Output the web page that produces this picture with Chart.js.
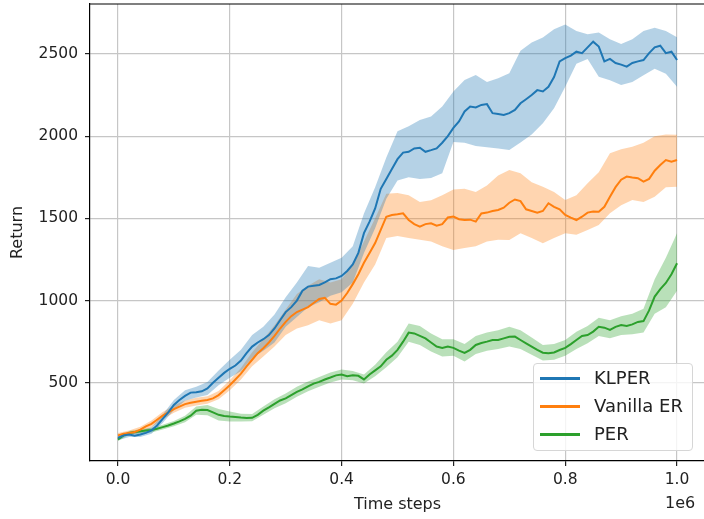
<!DOCTYPE html>
<html>
<head>
<meta charset="utf-8">
<script src="https://cdn.jsdelivr.net/npm/chart.js@4.4.1/dist/chart.umd.min.js"></script>
<style>
  html, body { margin: 0; padding: 0; background: #fff; overflow: hidden; }
  #wrap { position: relative; width: 704px; height: 519px; overflow: hidden; }
  #wrap canvas { position: absolute; left: 0; top: 0; }
  .legend {
    position: absolute; left: 533px; top: 363px; width: 160px; height: 88px;
    border: 1px solid #d6d6d6; border-radius: 4px; background: rgba(255,255,255,0.8);
    font-family: "DejaVu Sans", sans-serif; font-size: 18px; color: #222;
    box-sizing: border-box;
  }
  .legend .row { position: absolute; left: 0; height: 22px; line-height: 22px; white-space: nowrap; }
  .legend .sw { position: absolute; left: 6px; top: 10px; width: 40px; height: 2.5px; }
  .legend .lb { position: absolute; left: 60px; top: 0; }
  .offset { position: absolute; left: 665px; top: 493px; font-family: "DejaVu Sans", sans-serif;
    font-size: 16px; color: #222; }
</style>
</head>
<body>
<div id="wrap">
  <canvas id="c" width="720" height="519" style="width:720px;height:519px"></canvas>
  <div class="legend" id="legend"></div>
  <div class="offset">1e6</div>
</div>
<script>
// time steps in units of 1e6
const timeSteps = [0.00, 0.01, 0.02, 0.03, 0.04, 0.05, 0.06, 0.07, 0.08, 0.09,
  0.10, 0.11, 0.12, 0.13, 0.14, 0.15, 0.16, 0.17, 0.18, 0.19,
  0.20, 0.21, 0.22, 0.23, 0.24, 0.25, 0.26, 0.27, 0.28, 0.29,
  0.30, 0.31, 0.32, 0.33, 0.34, 0.35, 0.36, 0.37, 0.38, 0.39,
  0.40, 0.41, 0.42, 0.43, 0.44, 0.45, 0.46, 0.47, 0.48, 0.49,
  0.50, 0.51, 0.52, 0.53, 0.54, 0.55, 0.56, 0.57, 0.58, 0.59,
  0.60, 0.61, 0.62, 0.63, 0.64, 0.65, 0.66, 0.67, 0.68, 0.69,
  0.70, 0.71, 0.72, 0.73, 0.74, 0.75, 0.76, 0.77, 0.78, 0.79,
  0.80, 0.81, 0.82, 0.83, 0.84, 0.85, 0.86, 0.87, 0.88, 0.89,
  0.90, 0.91, 0.92, 0.93, 0.94, 0.95, 0.96, 0.97, 0.98, 0.99, 1.00];

const klperMean = [165, 180, 185, 178, 185, 195, 210, 240, 280, 320,
  365, 395, 420, 440, 442, 448, 465, 500, 530, 560,
  585, 605, 635, 680, 720, 745, 765, 790, 830, 880,
  930, 960, 1000, 1060, 1085, 1090, 1095, 1110, 1130, 1135,
  1150, 1180, 1220, 1290, 1410, 1480, 1560, 1680, 1740, 1800,
  1860, 1900, 1905, 1925, 1930, 1905, 1915, 1926, 1960, 2000,
  2050, 2090, 2150, 2180, 2175, 2190, 2195, 2140, 2135, 2129,
  2140, 2160, 2200, 2225, 2250, 2280, 2272, 2300, 2360, 2455,
  2475, 2490, 2514, 2505, 2540, 2575, 2545, 2455, 2470, 2445,
  2435, 2423, 2445, 2455, 2463, 2505, 2540, 2550, 2505, 2514, 2463];

const vanillaMean = [180, 190, 195, 200, 215, 235, 250, 275, 300, 320,
  340, 355, 370, 378, 385, 390, 395, 405, 425, 455,
  485, 520, 555, 600, 640, 680, 710, 745, 785, 830,
  870, 905, 930, 945, 960, 985, 1010, 1016, 980, 975,
  1000, 1046, 1100, 1160, 1230, 1289, 1350, 1430, 1510, 1520,
  1525, 1531, 1490, 1465, 1450, 1465, 1470, 1455, 1465, 1505,
  1511, 1495, 1490, 1492, 1480, 1530, 1535, 1545, 1551, 1565,
  1595, 1615, 1605, 1555, 1545, 1535, 1545, 1592, 1570, 1555,
  1521, 1505, 1490, 1510, 1535, 1541, 1540, 1570, 1632, 1690,
  1735, 1754, 1748, 1744, 1723, 1740, 1790, 1825, 1855, 1845, 1855];

const perMean = [155, 180, 195, 200, 205, 210, 212, 220, 230, 240,
  252, 265, 280, 300, 330, 335, 334, 320, 305, 298,
  294, 292, 288, 285, 287, 305, 330, 350, 372, 392,
  405, 425, 445, 460, 478, 495, 505, 520, 532, 545,
  550, 540, 545, 542, 520, 550, 575, 600, 640, 665,
  700, 750, 805, 800, 785, 770, 745, 720, 712, 720,
  712, 695, 681, 700, 730, 742, 750, 760, 760, 770,
  780, 781, 760, 740, 720, 700, 683, 680, 684, 699,
  712, 735, 760, 785, 790, 811, 840, 835, 821, 840,
  851, 845, 855, 870, 875, 940, 1024, 1070, 1107, 1160, 1227];

// shaded spread, read on a coarser grid
const bandSteps = [0.00, 0.02, 0.04, 0.06, 0.08, 0.10, 0.12, 0.14, 0.16, 0.18,
  0.20, 0.22, 0.24, 0.26, 0.28, 0.30, 0.32, 0.34, 0.36, 0.38,
  0.40, 0.42, 0.44, 0.46, 0.48, 0.50, 0.52, 0.54, 0.56, 0.58,
  0.60, 0.62, 0.64, 0.66, 0.68, 0.70, 0.72, 0.74, 0.76, 0.78,
  0.80, 0.82, 0.84, 0.86, 0.88, 0.90, 0.92, 0.94, 0.96, 0.98, 1.00];

const klperLow = [150, 170, 170, 190, 255, 335, 390, 410, 425, 485,
  530, 570, 650, 695, 745, 840, 900, 960, 990, 1030,
  1050, 1110, 1290, 1440, 1620, 1730, 1750, 1740, 1745, 1775,
  1965, 1960, 1940, 1932, 1925, 1916, 1962, 2010, 2078, 2170,
  2300, 2440, 2470, 2362, 2340, 2311, 2330, 2370, 2410, 2380, 2301];
const klperHigh = [180, 200, 205, 230, 305, 395, 455, 475, 505, 575,
  640, 700, 790, 840, 915, 1020, 1110, 1210, 1200, 1230,
  1260, 1330, 1530, 1690, 1870, 2030, 2060, 2099, 2119, 2180,
  2271, 2342, 2372, 2330, 2352, 2383, 2520, 2570, 2600, 2650,
  2680, 2640, 2620, 2630, 2590, 2561, 2590, 2640, 2660, 2640, 2601];

const vanillaLow = [165, 180, 198, 230, 278, 318, 348, 362, 372, 400,
  455, 520, 600, 660, 720, 790, 830, 850, 880, 860,
  880, 980, 1110, 1220, 1380, 1392, 1380, 1370, 1360, 1330,
  1308, 1320, 1330, 1360, 1370, 1369, 1409, 1380, 1348, 1380,
  1409, 1400, 1429, 1460, 1531, 1580, 1612, 1600, 1632, 1690, 1693];
const vanillaHigh = [195, 210, 232, 270, 322, 362, 392, 408, 418, 450,
  515, 590, 685, 765, 850, 945, 1040, 1090, 1130, 1110,
  1130, 1220, 1360, 1500, 1650, 1655, 1640, 1600, 1610, 1640,
  1676, 1680, 1660, 1700, 1760, 1794, 1774, 1720, 1693, 1660,
  1612, 1640, 1713, 1780, 1896, 1920, 1936, 1960, 2000, 2010, 2008];

const perLow = [145, 183, 193, 198, 215, 236, 260, 305, 303, 270,
  265, 265, 266, 305, 345, 375, 415, 448, 475, 502,
  520, 515, 495, 540, 595, 655, 750, 730, 690, 660,
  665, 630, 675, 695, 705, 720, 705, 670, 635, 640,
  665, 705, 740, 785, 770, 790, 795, 805, 920, 960, 1060];
const perHigh = [168, 207, 217, 226, 245, 268, 300, 355, 365, 340,
  325, 312, 310, 355, 400, 435, 475, 508, 535, 562,
  580, 572, 550, 610, 685, 750, 860, 845, 800, 765,
  765, 735, 785, 805, 820, 840, 820, 775, 730, 735,
  760, 810, 845, 895, 880, 905, 920, 950, 1130, 1260, 1410];

const xTicks = [0.0, 0.2, 0.4, 0.6, 0.8, 1.0];
const yTicks = [500, 1000, 1500, 2000, 2500];

const series = [
  { name: 'KLPER', mean: klperMean, low: klperLow, high: klperHigh, color: '#1f77b4', fill: 'rgba(31,119,180,0.33)' },
  { name: 'Vanilla ER', mean: vanillaMean, low: vanillaLow, high: vanillaHigh, color: '#ff7f0e', fill: 'rgba(255,127,14,0.33)' },
  { name: 'PER', mean: perMean, low: perLow, high: perHigh, color: '#2ca02c', fill: 'rgba(44,160,44,0.33)' }
];

const pts = (xs, ys) => ys.map((v, i) => ({ x: xs[i], y: v }));

const datasets = [];
series.forEach(s => {
  datasets.push({
    label: s.name + ' low', data: pts(bandSteps, s.low),
    borderWidth: 0, borderColor: 'rgba(0,0,0,0)', pointRadius: 0, fill: false, order: 2
  });
  datasets.push({
    label: s.name + ' high', data: pts(bandSteps, s.high),
    borderWidth: 0, borderColor: 'rgba(0,0,0,0)', pointRadius: 0,
    fill: '-1', backgroundColor: s.fill, order: 2
  });
});
series.forEach(s => {
  datasets.push({
    label: s.name, data: pts(timeSteps, s.mean), borderColor: s.color, borderWidth: 2,
    pointRadius: 0, fill: false, tension: 0, order: 1
  });
});

// top spine (matplotlib frame)
const frame = {
  id: 'frame',
  afterDraw(chart) {
    const { ctx, chartArea: a } = chart;
    ctx.save();
    ctx.strokeStyle = '#000';
    ctx.lineWidth = 1.2;
    ctx.beginPath();
    ctx.moveTo(a.left, a.top);
    ctx.lineTo(a.right, a.top);
    ctx.stroke();
    ctx.restore();
  }
};

const tickFont = { family: 'DejaVu Sans', size: 15.5 };

new Chart(document.getElementById('c'), {
  type: 'line',
  data: { datasets },
  options: {
    responsive: false,
    animation: false,
    layout: { padding: { top: 4, right: 15, left: 0, bottom: 0 } },
    plugins: { legend: { display: false }, tooltip: { enabled: false } },
    scales: {
      x: {
        type: 'linear', min: -0.05, max: 1.05,
        afterBuildTicks: (sc) => { sc.ticks = xTicks.map(v => ({ value: v })); },
        afterFit: (sc) => { sc.height = 58; sc.paddingLeft = 0; sc.paddingRight = 0; },
        ticks: { callback: v => v.toFixed(1), font: tickFont, color: '#222', padding: 5, maxRotation: 0 },
        grid: { color: '#c6c6c6', lineWidth: 1.2, tickLength: 5, tickColor: '#222', tickWidth: 1.2 },
        border: { color: '#000', width: 1.2 },
        title: { display: true, text: 'Time steps', font: { family: 'DejaVu Sans', size: 16 }, color: '#222', padding: { top: 0, bottom: 5 } }
      },
      y: {
        type: 'linear', min: 24, max: 2804,
        afterBuildTicks: (sc) => { sc.ticks = yTicks.map(v => ({ value: v })); },
        afterFit: (sc) => { sc.width = 90; sc.paddingTop = 0; sc.paddingBottom = 0; },
        ticks: { callback: v => String(v), font: tickFont, color: '#222', padding: 7 },
        grid: { color: '#c6c6c6', lineWidth: 1.2, tickLength: 5, tickColor: '#222', tickWidth: 1.2 },
        border: { color: '#000', width: 1.2 },
        title: { display: true, text: 'Return', font: { family: 'DejaVu Sans', size: 16 }, color: '#222', padding: { top: 8, bottom: 0 } }
      }
    }
  },
  plugins: [frame]
});

// legend box as html
const legend = document.getElementById('legend');
series.forEach((s, i) => {
  const row = document.createElement('div');
  row.className = 'row';
  row.style.top = (3 + i * 28) + 'px';
  row.innerHTML = `<span class="sw" style="background:${s.color}"></span><span class="lb">${s.name}</span>`;
  legend.appendChild(row);
});
</script>
</body>
</html>
